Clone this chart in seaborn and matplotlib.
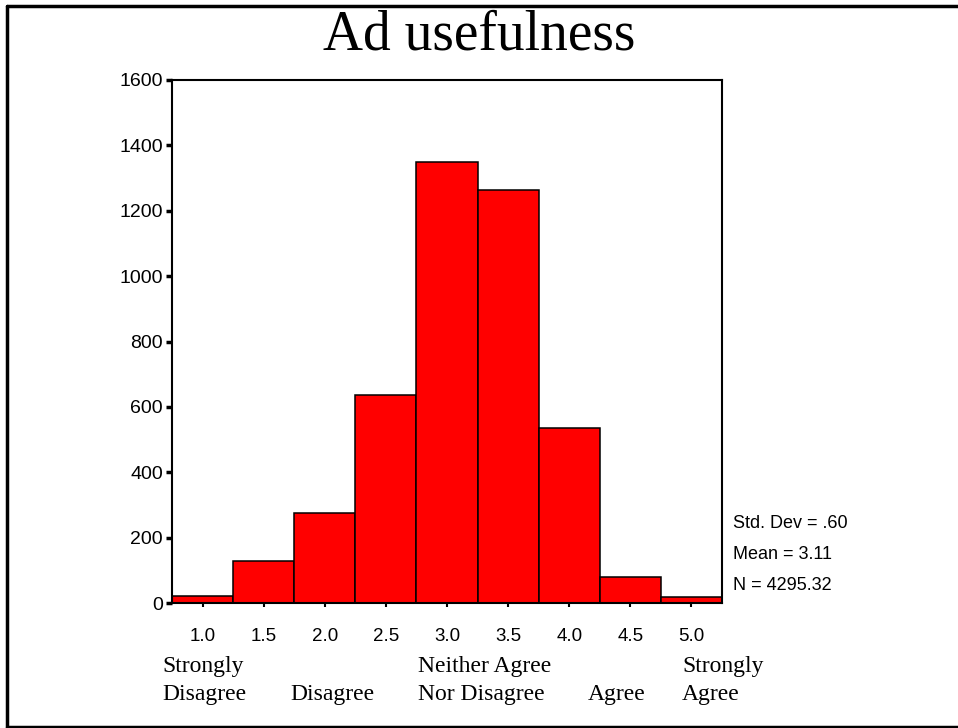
import pandas as pd
import matplotlib.pyplot as plt
import seaborn as sns
from matplotlib.lines import Line2D

# histogram data (bin centres and counts)
scores = [1.0, 1.5, 2.0, 2.5, 3.0, 3.5, 4.0, 4.5, 5.0]
counts = [22, 130, 274, 637, 1350, 1265, 534, 80, 18]
tick_labels = ["1.0", "1.5", "2.0", "2.5", "3.0", "3.5", "4.0", "4.5", "5.0"]
y_ticks = [0, 200, 400, 600, 800, 1000, 1200, 1400, 1600]

scale_labels = ["Strongly\nDisagree", "Disagree", "Neither Agree\nNor Disagree", "Agree", "Strongly\nAgree"]
scale_x_px = [162, 290, 418, 588, 682]

stats = ["Std. Dev = .60", "Mean = 3.11", "N = 4295.32"]

df = pd.DataFrame({"score": scores, "count": counts})

sns.set_style("white")
plt.rcParams['font.family'] = ['Liberation Sans', 'DejaVu Sans']
plt.rcParams['text.color'] = 'black'

W, H = 958, 728
fig = plt.figure(figsize=(W / 100, H / 100), dpi=100)
ax = fig.add_axes([172 / W, 1 - 603 / H, 550 / W, 523 / H])

sns.histplot(data=df, x="score", weights="count", binwidth=0.5, binrange=(0.75, 5.25),
             color="#ff0000", alpha=1, edgecolor="black", linewidth=1.1, ax=ax)

ax.set_xlim(0.75, 5.25)
ax.set_ylim(0, 1600)
ax.set_xticks(scores)
ax.set_xticklabels(tick_labels)
ax.set_yticks(y_ticks)
ax.set_xlabel("")
ax.set_ylabel("")
for s in ax.spines.values():
    s.set_linewidth(1.5)
    s.set_color("black")
ax.tick_params(axis="y", direction="out", length=4.5, width=2.5, color="black",
               labelcolor="black", labelsize=14, pad=2, left=True)
ax.tick_params(axis="x", direction="out", length=3, width=1.5, color="black",
               labelcolor="black", labelsize=13.5, pad=15, bottom=True)

# title
fig.text(0.5, 1 - 49 / H, "Ad usefulness", ha="center", va="baseline",
         family="Liberation Serif", fontsize=40)

# verbal scale labels under the numeric ticks
for lab, xp in zip(scale_labels, scale_x_px):
    fig.text(xp / W, 1 - 705 / H, lab, ha="left", va="bottom",
             family="Liberation Serif", fontsize=17, linespacing=1.45)

# summary statistics
for i, s in enumerate(stats):
    fig.text(733 / W, 1 - (523 + 31.5 * i) / H, s, ha="left", va="center", fontsize=13)

# outer frame (left, top, bottom)
frame = dict(color="black", linewidth=2.5, transform=fig.transFigure)
fig.add_artist(Line2D([7 / W, 7 / W], [1 - 727 / H, 1 - 6 / H], **frame))
fig.add_artist(Line2D([7 / W, 1.0], [1 - 6 / H, 1 - 6 / H], **frame))
fig.add_artist(Line2D([7 / W, 1.0], [1 - 727 / H, 1 - 727 / H], **frame))

fig.savefig("out.png", dpi=100)
